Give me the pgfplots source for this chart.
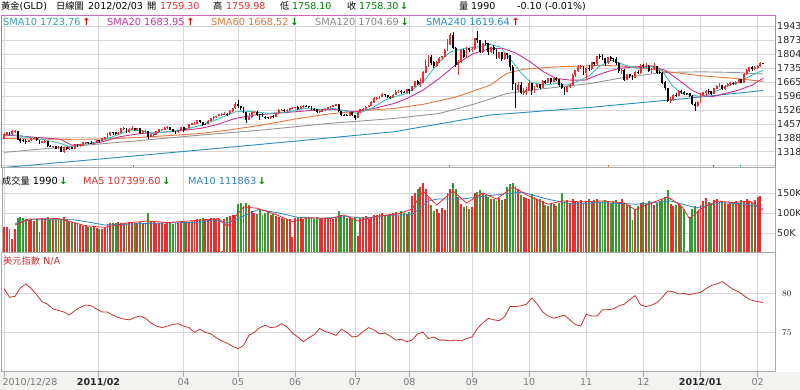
\documentclass[border=0pt]{standalone}
\usepackage{pgfplots}
\pgfplotsset{compat=1.18}
\usepackage{pgfplotstable}
\usepackage{fontspec}
\setmainfont{DejaVu Sans}
\newfontfamily\cjk{Noto Sans CJK TC}
\definecolor{upred}{RGB}{235,45,45}
\definecolor{volgreen}{RGB}{50,155,50}
\definecolor{arrgreen}{RGB}{0,128,0}
\definecolor{arrred}{RGB}{225,0,0}
\definecolor{sma10}{RGB}{60,190,190}
\definecolor{sma20}{RGB}{200,50,150}
\definecolor{sma60}{RGB}{225,120,60}
\definecolor{sma120}{RGB}{150,150,150}
\definecolor{sma240}{RGB}{40,140,190}
\definecolor{pframe}{RGB}{204,102,204}
\definecolor{gframe}{RGB}{170,170,170}
\definecolor{gridc}{RGB}{215,215,215}
\definecolor{dxc}{RGB}{200,50,50}
\definecolor{ma10v}{RGB}{50,130,190}
\definecolor{bg}{RGB}{242,242,240}
\definecolor{labc}{RGB}{40,40,40}
\definecolor{datec}{RGB}{120,120,120}

\pgfplotstableread{
o h l c v
1381 1410 1380 1405 65
1405 1416 1402 1413 64
1413 1415 1400 1406 61
1406 1424 1404 1421 35
1421 1424 1413 1422 60
1422 1423 1376 1379 88
1379 1386 1364 1373 90
1373 1381 1365 1371 87
1371 1380 1356 1369 84
1369 1379 1365 1376 82
1376 1388 1372 1384 85
1384 1391 1380 1386 80
1386 1392 1373 1376 86
1376 1378 1356 1361 52
1361 1372 1360 1370 88
1370 1378 1363 1372 86
1372 1373 1343 1346 90
1346 1352 1340 1342 85
1342 1348 1335 1344 87
1344 1346 1330 1334 84
1334 1345 1330 1342 88
1342 1345 1316 1319 86
1319 1344 1310 1340 90
1340 1344 1328 1333 84
1333 1343 1325 1340 80
1340 1344 1330 1333 78
1333 1357 1332 1354 75
1354 1357 1343 1349 72
1349 1355 1344 1350 70
1350 1366 1347 1364 68
1364 1368 1358 1365 70
1365 1368 1355 1363 66
1363 1372 1356 1360 64
1360 1365 1353 1362 66
1362 1377 1361 1375 62
1375 1378 1368 1374 60
1374 1387 1372 1385 61
1385 1391 1380 1388 65
1388 1412 1386 1401 72
1401 1417 1398 1415 76
1415 1416 1400 1413 74
1413 1415 1403 1409 75
1409 1415 1402 1411 77
1411 1436 1408 1434 76
1434 1440 1427 1437 74
1437 1438 1412 1416 75
1416 1436 1413 1430 77
1430 1445 1428 1434 74
1434 1438 1420 1427 76
1427 1437 1423 1433 75
1433 1435 1409 1412 78
1412 1425 1406 1420 74
1420 1427 1414 1422 76
1422 1423 1380 1394 100
1394 1405 1390 1403 80
1403 1407 1393 1404 78
1404 1420 1400 1418 76
1418 1431 1415 1428 75
1428 1432 1423 1429 74
1429 1439 1426 1436 72
1436 1446 1432 1438 75
1438 1440 1424 1428 76
1428 1431 1415 1418 73
1418 1421 1407 1417 74
1417 1427 1414 1424 75
1424 1440 1421 1439 76
1439 1443 1418 1428 78
1428 1438 1426 1437 76
1437 1456 1434 1454 77
1454 1460 1449 1458 80
1458 1464 1453 1459 82
1459 1477 1457 1474 84
1474 1476 1460 1465 86
1465 1466 1444 1453 88
1453 1461 1451 1457 84
1457 1474 1455 1472 86
1472 1487 1471 1486 88
1486 1497 1476 1492 87
1492 1497 1488 1496 85
1496 1505 1494 1503 84
1503 1509 1498 1504 4
1504 1518 1500 1507 86
1507 1511 1497 1506 90
1506 1525 1502 1520 92
1520 1537 1517 1535 95
1535 1566 1533 1556 96
1556 1577 1536 1545 122
1545 1548 1524 1535 126
1535 1542 1510 1516 118
1516 1518 1462 1475 124
1475 1509 1475 1490 120
1490 1515 1488 1513 105
1513 1521 1511 1517 100
1517 1520 1496 1502 98
1504 1506 1478 1502 108
1502 1509 1490 1491 96
1491 1494 1480 1490 100
1490 1492 1480 1485 104
1485 1498 1483 1496 95
1496 1500 1486 1493 98
1493 1513 1491 1510 92
1510 1530 1508 1526 90
1526 1531 1520 1527 88
1527 1531 1518 1525 85
1525 1530 1516 1526 86
1526 1538 1522 1535 84
1535 1542 1530 1536 39
1536 1543 1532 1541 88
1541 1545 1528 1533 90
1533 1547 1530 1542 88
1542 1550 1537 1545 86
1545 1549 1539 1543 84
1544 1548 1536 1543 90
1543 1545 1527 1531 88
1531 1535 1522 1529 86
1529 1532 1512 1516 90
1516 1524 1512 1519 85
1519 1532 1516 1528 87
1528 1534 1520 1530 84
1530 1541 1528 1539 86
1539 1545 1535 1542 88
1542 1551 1540 1549 85
1549 1556 1544 1553 87
1553 1554 1514 1520 104
1520 1523 1497 1501 95
1502 1508 1495 1501 92
1501 1505 1494 1499 88
1499 1516 1496 1513 90
1513 1515 1497 1502 86
1502 1503 1478 1486 90
1486 1518 1484 1516 43
1516 1531 1512 1529 88
1529 1535 1522 1530 90
1530 1545 1525 1542 92
1542 1551 1540 1547 86
1547 1571 1545 1563 90
1563 1589 1561 1585 95
1585 1590 1578 1586 96
1586 1597 1582 1594 98
1594 1610 1592 1602 100
1602 1606 1590 1600 94
1600 1603 1586 1591 96
1591 1598 1579 1587 98
1587 1604 1585 1601 100
1601 1624 1599 1616 102
1616 1624 1610 1620 96
1620 1626 1606 1615 104
1615 1622 1609 1614 100
1614 1632 1612 1628 98
1628 1631 1608 1623 102
1623 1646 1620 1643 143
1643 1669 1640 1667 150
1667 1674 1650 1658 160
1658 1684 1640 1663 165
1663 1718 1661 1713 174
1713 1778 1708 1742 160
1742 1799 1740 1790 140
1790 1801 1750 1763 120
1763 1770 1736 1747 105
1747 1768 1740 1763 110
1763 1792 1761 1785 100
1785 1795 1777 1792 112
1792 1830 1789 1822 108
1822 1877 1820 1852 150
1852 1911 1850 1896 161
1896 1912 1832 1835 174
1835 1840 1740 1752 160
1752 1775 1702 1766 140
1766 1830 1760 1825 122
1825 1830 1786 1790 115
1790 1838 1788 1835 118
1835 1837 1817 1826 110
1826 1838 1817 1830 115
1830 1884 1826 1881 150
1881 1921 1861 1874 152
1874 1876 1808 1817 157
1817 1862 1812 1859 150
1859 1876 1850 1856 145
1856 1858 1802 1815 140
1815 1840 1810 1836 135
1836 1848 1804 1826 135
1826 1830 1778 1786 130
1786 1815 1782 1812 138
1812 1815 1772 1779 132
1779 1812 1775 1807 135
1810 1812 1780 1800 165
1800 1802 1722 1739 172
1739 1749 1627 1656 174
1656 1660 1535 1627 168
1627 1664 1615 1651 160
1651 1666 1606 1614 145
1614 1637 1603 1617 140
1617 1640 1600 1624 138
1624 1676 1622 1658 135
1658 1660 1603 1628 148
1628 1647 1611 1641 140
1641 1656 1637 1652 136
1652 1655 1629 1636 135
1636 1676 1635 1671 130
1671 1677 1654 1663 120
1663 1686 1660 1683 118
1683 1684 1657 1666 125
1666 1685 1663 1682 122
1682 1688 1670 1677 117
1677 1680 1643 1653 126
1653 1661 1630 1638 150
1638 1640 1603 1618 128
1618 1646 1615 1642 132
1642 1657 1636 1651 126
1651 1704 1648 1700 135
1700 1726 1692 1722 130
1722 1750 1717 1741 128
1741 1750 1732 1744 133
1744 1746 1700 1713 126
1713 1742 1673 1732 130
1732 1748 1722 1731 134
1731 1766 1723 1762 128
1762 1764 1743 1754 132
1754 1797 1750 1794 135
1794 1803 1782 1793 127
1793 1803 1777 1785 130
1785 1787 1747 1760 133
1760 1790 1755 1788 128
1788 1796 1772 1781 126
1782 1786 1765 1780 130
1780 1789 1752 1759 132
1759 1765 1712 1720 128
1720 1730 1705 1725 135
1725 1728 1671 1677 126
1677 1705 1675 1702 120
1702 1706 1686 1697 120
1697 1697 1676 1686 83
1686 1720 1684 1714 110
1714 1724 1704 1713 118
1713 1755 1705 1746 125
1748 1753 1735 1745 128
1745 1762 1740 1746 122
1746 1750 1715 1722 130
1722 1737 1712 1732 126
1732 1762 1727 1744 120
1744 1747 1706 1713 125
1713 1721 1704 1711 130
1711 1714 1657 1664 135
1664 1670 1625 1635 140
1635 1637 1567 1574 158
1574 1590 1562 1577 122
1577 1605 1573 1598 118
1598 1609 1590 1597 120
1597 1624 1595 1619 122
1619 1626 1606 1616 117
1616 1621 1602 1609 110
1609 1613 1600 1607 5
1607 1611 1590 1597 90
1597 1599 1549 1555 110
1555 1564 1523 1545 117
1545 1570 1541 1564 105
1564 1612 1562 1600 121
1600 1615 1596 1612 130
1612 1626 1597 1620 138
1620 1630 1608 1617 128
1617 1620 1601 1607 125
1607 1637 1605 1633 132
1633 1648 1629 1643 135
1643 1658 1640 1647 128
1647 1649 1626 1630 130
1630 1650 1628 1645 125
1645 1660 1640 1655 122
1655 1664 1645 1660 128
1660 1667 1650 1658 124
1658 1669 1651 1664 130
1664 1680 1660 1677 126
1677 1680 1659 1664 132
1664 1710 1660 1706 128
1706 1730 1700 1723 135
1723 1740 1715 1739 130
1739 1744 1721 1730 125
1730 1747 1725 1738 132
1738 1750 1730 1745 140
1745 1764 1741 1757 143
1759.3 1759.98 1758.1 1758.3 2
}\pd

\pgfplotstableread{
i d
0 80.6
2 79.5
4 79.6
6 80.7
8 81.2
10 80.6
12 79.8
14 78.9
16 78.6
18 78.0
20 77.8
22 77.6
24 77.2
26 77.8
28 78.2
30 78.5
32 78.4
34 78.0
36 77.6
38 77.6
40 77.2
42 76.9
44 76.7
46 76.6
48 76.9
50 77.1
52 76.8
54 76.2
56 75.8
58 75.6
60 75.8
62 76.0
64 76.1
66 75.8
68 75.6
70 75.0
72 75.4
74 75.0
76 74.8
78 74.3
80 73.9
82 73.6
84 73.2
86 72.9
88 73.3
90 74.6
92 75.0
94 75.6
96 75.9
98 75.6
100 75.7
102 76.1
104 75.7
106 74.9
108 74.4
110 73.8
112 74.3
114 74.7
116 75.5
118 75.1
120 74.9
122 74.6
124 75.4
126 75.0
128 74.4
130 74.5
132 75.1
134 75.6
136 75.3
138 74.8
140 74.9
142 74.5
144 74.0
146 74.1
148 73.8
150 74.0
152 74.8
154 75.0
156 74.2
158 74.4
160 74.0
162 74.0
164 73.9
166 74.0
168 73.9
170 74.2
172 74.4
174 75.5
176 76.2
178 76.8
180 76.6
182 76.5
184 77.0
186 78.3
188 78.3
190 78.4
192 78.6
194 79.4
196 78.6
198 77.6
200 77.1
202 76.8
204 77.0
206 77.2
208 76.6
210 76.0
212 75.8
214 77.3
216 77.1
218 77.1
220 77.9
222 77.9
224 78.0
226 78.4
228 78.6
230 79.2
232 79.7
234 78.5
236 78.3
238 78.5
240 78.8
242 79.5
244 80.3
246 80.2
248 79.9
250 80.0
252 79.8
254 80.0
256 80.1
258 80.6
260 81.0
262 81.2
264 81.5
266 81.0
268 80.5
270 80.2
272 79.7
274 79.2
276 79.0
278 78.9
279 78.8
}\dx

\pgfplotsset{
  panel/.style={scale only axis, width=773pt, anchor=south west,
    xmin=-0.77, xmax=283.4,
    xtick={0,34.7,66,86,107,129,149,172,193,214,235,256,277},
    xticklabels={},
    xmajorgrids, ymajorgrids,
    major grid style={draw=gridc, line width=0.7pt},
    major tick length=0pt,
    yticklabel pos=right,
    yticklabel style={font=\fontsize{9.5}{10}\selectfont, text=labc, anchor=west, inner sep=0pt, xshift=2pt},
    axis line style={draw=gframe, line width=1pt},
    axis background/.style={fill=white},
  },
  upf/.style={x filter/.expression={\thisrow{c}>=\thisrow{o} ? x : nan}},
  dnf/.style={x filter/.expression={\thisrow{c}<\thisrow{o} ? x : nan}},
  wick/.style={draw=none, mark=none, forget plot, error bars/.cd, y dir=plus, y explicit, error mark=none, error bar style={line width=0.8pt, solid, draw=#1}},
  body/.style={draw=none, mark=none, forget plot, error bars/.cd, y dir=plus, y explicit, error mark=none, error bar style={line width=1.9pt, solid, draw=#1}},
}

\begin{document}
\begin{tikzpicture}[x=1pt,y=1pt]
\useasboundingbox (0,0) rectangle (800,390);
\fill[white] (0,0) rectangle (800,390);
\fill[bg] (0,0) rectangle (800,18);

% ---------- price panel ----------
\begin{axis}[panel, at={(2pt,222pt)}, height=152pt,
  ymin=1237.3, ymax=1994,
  ytick={1248.6,1318.0,1387.5,1456.9,1526.4,1595.8,1665.2,1734.7,1804.1,1873.6,1943.0},
  yticklabels={,1318,1388,1457,1526,1596,1665,1735,1804,1873,1943},
  axis line style={draw=pframe, line width=1pt}]
\addplot[sma240, line width=0.9pt] coordinates {(-0.8,1239) (35.3,1282) (72,1327) (107,1371) (143.5,1418) (178.7,1501) (215.4,1539) (250.3,1583) (279,1623)};
\addplot[sma120, line width=0.9pt] coordinates {(0,1315) (23,1343) (47.5,1371) (72,1401) (94.7,1426) (119.2,1459) (143.5,1484) (160,1509) (172.5,1554) (184.8,1608) (197,1630) (215.4,1658) (225.8,1683) (241.8,1713) (256.5,1716) (268.8,1713) (279,1705)};
\addplot[sma60, line width=0.9pt] coordinates {(0,1385) (10.7,1381) (23,1380) (35.3,1381) (47.5,1388) (59.8,1398) (72,1409) (82.5,1426) (94.7,1451) (107,1481) (119.2,1506) (131.5,1522) (143.5,1534) (154,1554) (166.5,1592) (178.7,1650) (184.8,1708) (191,1729) (203,1741) (215.4,1746) (219.7,1749) (232,1741) (244.2,1716) (256.5,1696) (268.8,1683) (279,1668.5)};
\addplot[sma20, line width=0.9pt] coordinates {(0,1401) (6.5,1396) (13.2,1388) (20.6,1381) (24.8,1351) (28,1354) (35.3,1365) (42.6,1393) (50,1409) (57.3,1414) (64.7,1423) (72,1434) (77.6,1451) (85,1484) (92,1501) (99.5,1509) (106.9,1517) (114,1525) (121.5,1529) (128.8,1517) (136,1534) (143.5,1559) (148,1583) (154,1625) (160,1683) (166.5,1757) (172.5,1807) (178.7,1832) (183.6,1832) (188.5,1807) (193.4,1766) (198.3,1716) (203,1683) (208.1,1675) (213.6,1675) (219.7,1708) (225.8,1733) (232,1741) (238,1746) (243,1724) (248,1675) (252.8,1625) (256.5,1600) (260.2,1592) (265,1608) (270,1625) (275,1650) (279,1684)};
\addplot[sma10, line width=0.9pt] coordinates {(0,1404) (4.6,1401) (10.6,1385) (15.7,1376) (20.6,1360) (24.2,1343) (28,1351) (35.3,1371) (39,1388) (46.3,1426) (51,1423) (55,1409) (60,1418) (65,1426) (72,1448) (77.6,1476) (85,1517) (88.6,1520) (92,1517) (97,1509) (104.5,1517) (110.5,1534) (116.6,1529) (121.5,1534) (126.5,1517) (130,1509) (135,1534) (140,1575) (143.5,1592) (148,1608) (154,1666) (160,1766) (164,1815) (169,1832) (174,1840) (178.7,1852) (182.4,1840) (186,1782) (189.7,1716) (193.4,1666) (198.3,1650) (203,1658) (206.8,1650) (210.5,1666) (215.4,1700) (218.5,1741) (223.4,1774) (228.3,1749) (233.2,1733) (238,1741) (241.8,1724) (245.5,1650) (249,1608) (252.8,1600) (256.5,1592) (260,1608) (265,1641) (270,1666) (275,1700) (279,1724)};
\addplot[ycomb, sma240, line width=0.8pt, mark=none, forget plot] coordinates {(47.4,1253)};
\addplot[ycomb, sma120, line width=0.8pt, mark=none, forget plot] coordinates {(163.6,1253)};
\addplot[ycomb, sma60, line width=0.8pt, mark=none, forget plot] coordinates {(222,1253)};
\addplot[ycomb, sma20, line width=0.8pt, mark=none, forget plot] coordinates {(260.6,1253)};
\addplot[ycomb, sma10, line width=0.8pt, mark=none, forget plot] coordinates {(270.5,1253)};
\addplot[upf, wick=upred] table[x expr=\coordindex, y=l, y error plus expr={\thisrow{h}-\thisrow{l}}]{\pd};
\addplot[dnf, wick=black] table[x expr=\coordindex, y=l, y error plus expr={\thisrow{h}-\thisrow{l}}]{\pd};
\addplot[upf, body=upred] table[x expr=\coordindex, y expr={min(\thisrow{o},\thisrow{c})-1.2}, y error plus expr={abs(\thisrow{c}-\thisrow{o})+2.4}]{\pd};
\addplot[dnf, body=black] table[x expr=\coordindex, y expr={min(\thisrow{o},\thisrow{c})-1.2}, y error plus expr={abs(\thisrow{c}-\thisrow{o})+2.4}]{\pd};
\end{axis}

% ---------- volume panel ----------
\begin{axis}[panel, at={(2pt,137pt)}, height=85pt,
  ymin=0, ymax=212.5, ytick={50,100,150}, yticklabels={50K,100K,150K}]
\addplot[upf, ycomb, upred, line width=1.9pt, mark=none] table[x expr=\coordindex, y=v]{\pd};
\addplot[dnf, ycomb, volgreen, line width=1.9pt, mark=none] table[x expr=\coordindex, y=v]{\pd};
\addplot[ma10v, line width=0.8pt] coordinates {(4,74) (9.5,83) (26,83) (37,70) (53,74) (72,77) (77,83) (82,74) (93.6,109) (101,100) (108,89) (117,87) (126.5,91) (132,87) (141,94) (150,96) (156,130) (159.4,135) (168.5,135) (177.7,143) (190.5,152) (199.6,135) (208.7,122) (218,126) (232.5,122) (245,130) (254.4,113) (263.6,126) (272.7,122) (279,111.9)};
\addplot[upred, line width=0.8pt] coordinates {(4,70) (9,85) (20,86) (30,68) (37,64) (45,75) (53,80) (60,76) (72,82) (79,86) (82,66) (88,115) (93,112) (100,96) (106,78) (112,88) (120,86) (125,95) (130,80) (137,92) (145,98) (150,110) (154,155) (159,120) (165,155) (170,125) (176,150) (181,135) (187,165) (193,142) (200,122) (205,130) (212,128) (220,130) (228,125) (232,108) (238,125) (244,140) (249,118) (252,85) (256,110) (262,130) (268,126) (274,130) (279,107.4)};
\end{axis}

% ---------- dollar index panel ----------
\begin{axis}[panel, at={(2pt,18pt)}, height=119pt,
  ymin=69.91, ymax=85.17, ytick={75,80},
  xticklabels={\makebox[0pt][l]{\hspace{-1.5pt}2010/12/28},{\color{labc}\bfseries 2011/02},04,05,06,07,08,09,10,11,12,{\color{labc}\bfseries 2012/01},02},
  xticklabel style={font=\fontsize{9.5}{10}\selectfont, text=datec, anchor=north, inner sep=0pt, yshift=-1pt},
  xtick style={draw=gframe, line width=0.6pt},
  xtick pos=lower, tick align=outside, major tick length=5pt,
  ytick style={draw=none}]
\addplot[dxc, line width=0.8pt] table[x=i, y=d]{\dx};
\end{axis}

% ---------- texts ----------
\begin{scope}[font=\fontsize{9.5}{12}\selectfont]
\node[anchor=base west, inner sep=0] at (1,380) {{\cjk\fontsize{9.2}{11}\selectfont 黃金}(GLD)};
\node[anchor=base west, inner sep=0] at (56,380) {\cjk\fontsize{9.2}{11}\selectfont 日線圖};
\node[anchor=base west, inner sep=0] at (88,380) {2012/02/03};
\node[anchor=base west, inner sep=0] at (147,380) {\cjk\fontsize{9.2}{11}\selectfont 開};
\node[anchor=base west, inner sep=0, text=upred] at (160,380) {1759.30};
\node[anchor=base west, inner sep=0] at (213,380) {\cjk\fontsize{9.2}{11}\selectfont 高};
\node[anchor=base west, inner sep=0, text=upred] at (226,380) {1759.98};
\node[anchor=base west, inner sep=0] at (280,380) {\cjk\fontsize{9.2}{11}\selectfont 低};
\node[anchor=base west, inner sep=0, text=arrgreen] at (292,380) {1758.10};
\node[anchor=base west, inner sep=0] at (347,380) {\cjk\fontsize{9.2}{11}\selectfont 收};
\node[anchor=base west, inner sep=0, text=arrgreen] at (359,380) {1758.30\,\bfseries↓};
\node[anchor=base west, inner sep=0] at (459,380) {\cjk\fontsize{9.2}{11}\selectfont 量};
\node[anchor=base west, inner sep=0] at (471,380) {1990};
\node[anchor=base west, inner sep=0] at (517,380) {-0.10 (-0.01\%)};
\end{scope}
\begin{scope}[font=\fontsize{9.8}{12}\selectfont]
\node[anchor=base west, inner sep=0, text=sma10!85!black] at (3,364.5) {SMA10 1723.76\,{\color{arrred}\bfseries↑}};
\node[anchor=base west, inner sep=0, text=sma20] at (107,364.5) {SMA20 1683.95\,{\color{arrred}\bfseries↑}};
\node[anchor=base west, inner sep=0, text=sma60] at (211,364.5) {SMA60 1668.52\,{\color{arrgreen}\bfseries↓}};
\node[anchor=base west, inner sep=0, text=sma120!90!black] at (315,364.5) {SMA120 1704.69\,{\color{arrgreen}\bfseries↓}};
\node[anchor=base west, inner sep=0, text=sma240] at (426,364.5) {SMA240 1619.64\,{\color{arrred}\bfseries↑}};
\node[anchor=base west, inner sep=0] at (2,205.5) {{\cjk\fontsize{9.2}{11}\selectfont 成交量} 1990\,{\color{arrgreen}\bfseries↓}};
\node[anchor=base west, inner sep=0, text=upred] at (83,205.5) {MA5 107399.60\,{\color{arrgreen}\bfseries↓}};
\node[anchor=base west, inner sep=0, text=ma10v] at (188,205.5) {MA10 111863\,{\color{arrgreen}\bfseries↓}};
\node[anchor=base west, inner sep=0, text=dxc] at (3,125.5) {{\cjk\fontsize{9.2}{11}\selectfont 美元指數} N/A};
\end{scope}
\end{tikzpicture}
\end{document}
